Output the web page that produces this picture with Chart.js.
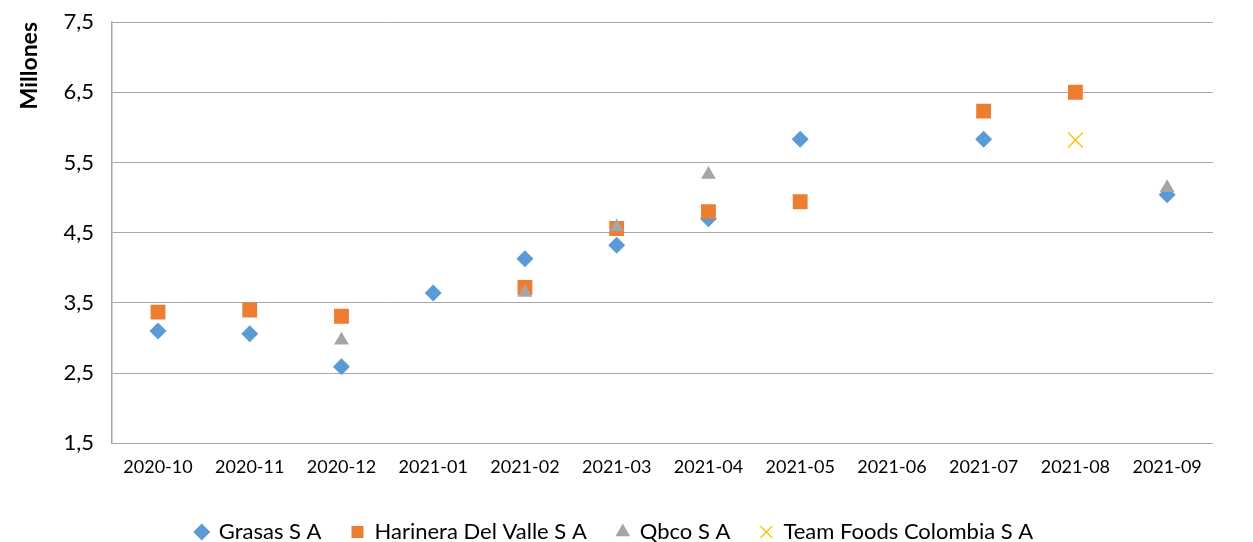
<!DOCTYPE html>
<html>
<head>
<meta charset="utf-8">
<script src="https://cdn.jsdelivr.net/npm/chart.js@4/dist/chart.umd.min.js"></script>
<style>
  html, body { margin: 0; padding: 0; background: #fff; }
  #wrap { width: 1253px; height: 542px; }
</style>
</head>
<body>
<div id="wrap"><canvas id="chart"></canvas></div>
<script>
// meses del eje X
const meses = ['2020-10', '2020-11', '2020-12', '2021-01', '2021-02', '2021-03',
  '2021-04', '2021-05', '2021-06', '2021-07', '2021-08', '2021-09'];

// valores en millones (null = sin dato)
const grasas = [3.10, 3.06, 2.59, 3.64, 4.13, 4.32, 4.70, 5.83, null, 5.83, null, 5.04];
const harinera = [3.37, 3.40, 3.31, null, 3.72, 4.56, 4.80, 4.94, null, 6.23, 6.50, null];
const qbco = [null, null, 2.97, null, 3.65, 4.58, 5.33, null, null, null, null, 5.14];
const teamFoods = [null, null, null, null, null, null, null, null, null, null, 5.82, null];

const nombres = ['Grasas S A', 'Harinera Del Valle S A', 'Qbco S A', 'Team Foods Colombia S A'];
const yTicks = [1.5, 2.5, 3.5, 4.5, 5.5, 6.5, 7.5];

const fuente = 'Lato, "Open Sans", sans-serif';

const ctx = document.getElementById('chart').getContext('2d');
new Chart(ctx, {
  type: 'line',
  data: {
    labels: meses,
    datasets: [
      {
        label: nombres[0], data: grasas, showLine: false, order: 3,
        pointStyle: 'rectRot', pointRadius: 8.5, pointHoverRadius: 8.5,
        backgroundColor: '#5B9BD5', borderColor: '#5B9BD5', borderWidth: 0,
      },
      {
        label: nombres[1], data: harinera, showLine: false, order: 2,
        pointStyle: 'rect', pointRadius: 10.5, pointHoverRadius: 10.5,
        backgroundColor: '#ED7D31', borderColor: '#ED7D31', borderWidth: 0,
      },
      {
        label: nombres[2], data: qbco, showLine: false, order: 1,
        pointStyle: 'triangle', pointRadius: 8.5, pointHoverRadius: 8.5,
        backgroundColor: '#A5A5A5', borderColor: '#A5A5A5', borderWidth: 0,
      },
      {
        label: nombres[3], data: teamFoods, showLine: false, order: 0,
        pointStyle: 'crossRot', pointRadius: 10.5, pointHoverRadius: 10.5,
        backgroundColor: '#FFC000', borderColor: '#FFC000', borderWidth: 1.3,
      },
    ],
  },
  options: {
    responsive: true,
    maintainAspectRatio: false,
    animation: false,
    layout: { padding: { top: 0, right: 40, left: 16, bottom: -11 } },
    scales: {
      x: {
        offset: true,
        grid: { display: false, drawTicks: false },
        border: { display: false },
        ticks: { color: '#000', font: { family: fuente, size: 18 }, padding: 13, maxRotation: 0 },
      },
      y: {
        min: 1.5,
        max: 7.5,
        afterBuildTicks: (axis) => { axis.ticks = yTicks.map(v => ({ value: v })); },
        // el espacio superior lo fija el margen del gráfico original
        afterFit: (axis) => { axis.paddingTop = 22; },
        grid: { color: '#A6A6A6', lineWidth: 1, drawTicks: false },
        border: { display: true, color: '#A6A6A6', width: 1.5 },
        ticks: {
          color: '#000', font: { family: fuente, size: 22 }, padding: 18,
          callback: (v) => v.toFixed(1).replace('.', ','),
        },
        title: {
          display: true, text: 'Millones', color: '#000', align: 'end',
          font: { family: fuente, size: 23, weight: 'bold' }, padding: { top: 0, bottom: 2 },
        },
      },
    },
    plugins: {
      tooltip: { enabled: false },
      legend: {
        position: 'bottom',
        labels: {
          usePointStyle: true,
          boxWidth: 12, boxHeight: 12,
          padding: 30,
          color: '#000',
          font: { family: fuente, size: 22 },
          sort: (a, b) => a.datasetIndex - b.datasetIndex,
        },
      },
    },
  },
});
</script>
</body>
</html>
